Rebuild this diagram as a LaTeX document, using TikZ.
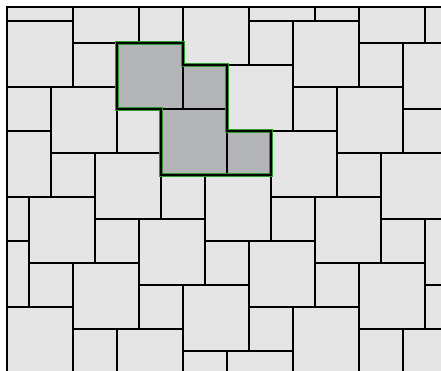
\documentclass[tikz,border=0pt]{standalone}
\definecolor{tile}{HTML}{E5E5E5}
\definecolor{hi}{HTML}{B4B5B9}
\definecolor{glow}{HTML}{2E9A2E}
\begin{document}
\begin{tikzpicture}[x=1pt,y=-1pt,
  tileline/.style={draw=black,line width=1.1pt,fill=tile},
  inner/.style={draw=black,line width=1.1pt},
  glowline/.style={draw=glow,line width=4pt,line join=miter},
  outline/.style={draw=black,line width=2.2pt,line join=miter}]
\useasboundingbox (0,0) rectangle (441,370);
\fill[white] (0,0) rectangle (441,370);
\begin{scope}
\clip (7,7) rectangle (450,380);
\fill[tile] (7,7) rectangle (450,380);
\foreach \i in {-4,...,8}{
  \foreach \j in {-6,...,6}{
    \pgfmathtruncatemacro\isskip{and(\i==-2,\j==-1)}
    \ifnum\isskip=0
      \pgfmathsetmacro\lx{117+44*\i+66*\j}
      \pgfmathsetmacro\ly{43+66*\i-44*\j}
      \draw[tileline] (\lx,\ly) rectangle ++(66,66);
      \draw[tileline] (\lx+66,\ly+22) rectangle ++(44,44);
    \fi
  }
}
\end{scope}
% highlighted region
\fill[hi] (117,43) -- (183,43) -- (183,65) -- (227,65) -- (227,131) -- (271,131) -- (271,175) -- (161,175) -- (161,109) -- (117,109) -- cycle;
\draw[inner] (183,65) -- (183,109);
\draw[inner] (161,109) -- (227,109);
\draw[inner] (227,131) -- (227,175);
\draw[glowline] (117,43) -- (183,43) -- (183,65) -- (227,65) -- (227,131) -- (271,131) -- (271,175) -- (161,175) -- (161,109) -- (117,109) -- cycle;
\draw[outline] (117,43) -- (183,43) -- (183,65) -- (227,65) -- (227,131) -- (271,131) -- (271,175) -- (161,175) -- (161,109) -- (117,109) -- cycle;
% frame
\draw[black,line width=1.6pt] (7,375) -- (7,7) -- (445,7);
\end{tikzpicture}
\end{document}
